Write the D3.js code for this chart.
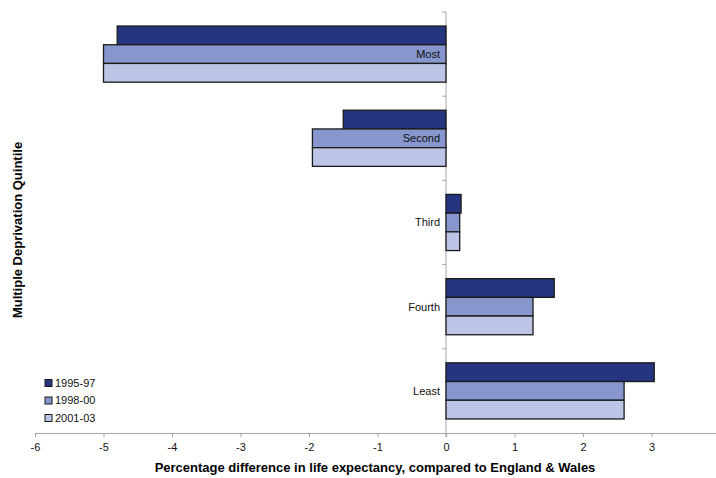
<!DOCTYPE html>
<html>
<head>
<meta charset="utf-8">
<script src="https://cdn.jsdelivr.net/npm/d3@7"></script>
<style>
  html, body { margin: 0; padding: 0; background: #fff; }
  svg { display: block; font-family: Arial, "Liberation Sans", sans-serif; }
</style>
</head>
<body>
<svg id="chart" width="716" height="478"></svg>
<script>
// Quintiles of multiple deprivation, most deprived first
const quintiles = ["Most", "Second", "Third", "Fourth", "Least"];
const periods = ["1995-97", "1998-00", "2001-03"];
// Percentage difference in life expectancy vs England & Wales, one array per period
const values1995 = [-4.8, -1.5, 0.22, 1.58, 3.04];
const values1998 = [-5.0, -1.95, 0.2, 1.27, 2.6];
const values2001 = [-5.0, -1.95, 0.2, 1.27, 2.6];
const xTicks = [-6, -5, -4, -3, -2, -1, 0, 1, 2, 3, 4];
// The last tick sits at the right edge of the plot and carries no label
const xTickLabels = ["-6", "-5", "-4", "-3", "-2", "-1", "0", "1", "2", "3", ""];
const colors = ["#26357f", "#8796cc", "#bcc5e5"];

const series = [values1995, values1998, values2001];
const svg = d3.select("#chart");

const plot = { left: 35, right: 720, top: 12, bottom: 433 };

const x = d3.scaleLinear().domain([-6, 4]).range([plot.left, plot.right]);
const y = d3.scaleBand().domain(quintiles).range([plot.top, plot.bottom])
  .paddingInner(1/3).paddingOuter(1/6);
const yInner = d3.scaleBand().domain(periods).range([0, y.bandwidth()]);

// Vertical category axis at zero, with ticks at category boundaries
const step = (plot.bottom - plot.top) / quintiles.length;
svg.append("line")
  .attr("x1", x(0)).attr("x2", x(0))
  .attr("y1", plot.top).attr("y2", plot.bottom + 4)
  .attr("stroke", "#a6a6a6").attr("stroke-width", 1);
d3.range(quintiles.length).forEach(i => {
  const yy = plot.top + i * step;
  svg.append("line")
    .attr("x1", x(0) - 4).attr("x2", x(0))
    .attr("y1", yy).attr("y2", yy)
    .attr("stroke", "#a6a6a6").attr("stroke-width", 1);
});

// Bars
quintiles.forEach((q, qi) => {
  periods.forEach((p, pi) => {
    const v = series[pi][qi];
    svg.append("rect")
      .attr("x", x(Math.min(0, v)))
      .attr("y", y(q) + yInner(p))
      .attr("width", Math.abs(x(v) - x(0)))
      .attr("height", yInner.bandwidth())
      .attr("fill", colors[pi])
      .attr("stroke", "#1a1a1a")
      .attr("stroke-width", 1.3);
  });
});

// Category labels beside the zero line
svg.append("g").selectAll("text").data(quintiles).join("text")
  .attr("x", x(0) - 6)
  .attr("y", d => y(d) + y.bandwidth() / 2)
  .attr("dy", "0.35em")
  .attr("text-anchor", "end")
  .attr("font-size", 11)
  .attr("fill", "#111")
  .text(d => d);

// Horizontal value axis
const xAxis = svg.append("g")
  .attr("transform", `translate(0,${plot.bottom})`)
  .call(d3.axisBottom(x).tickValues(xTicks).tickSize(4).tickSizeOuter(0).tickPadding(6)
    .tickFormat((d, i) => xTickLabels[i]));
xAxis.select(".domain").attr("stroke", "#a6a6a6");
xAxis.selectAll(".tick line").attr("stroke", "#a6a6a6");
xAxis.selectAll(".tick text")
  .attr("font-size", 11).attr("fill", "#111")
  .attr("font-family", "Arial, 'Liberation Sans', sans-serif");

// Axis titles
svg.append("text")
  .attr("x", 375).attr("y", 472)
  .attr("text-anchor", "middle")
  .attr("font-size", 13).attr("font-weight", "bold").attr("fill", "#000")
  .text("Percentage difference in life expectancy, compared to England & Wales");

svg.append("text")
  .attr("transform", "translate(22,230) rotate(-90)")
  .attr("text-anchor", "middle")
  .attr("font-size", 13).attr("font-weight", "bold").attr("fill", "#000")
  .text("Multiple Deprivation Quintile");

// Legend
const legend = svg.append("g").attr("transform", "translate(45,383)");
periods.forEach((p, i) => {
  const g = legend.append("g").attr("transform", `translate(0,${i * 17.5})`);
  g.append("rect")
    .attr("x", 0).attr("y", -3.5).attr("width", 7).attr("height", 7)
    .attr("fill", colors[i]).attr("stroke", "#1a1a1a").attr("stroke-width", 1);
  g.append("text")
    .attr("x", 10).attr("y", 0).attr("dy", "0.35em")
    .attr("font-size", 11).attr("fill", "#111")
    .text(p);
});
</script>
</body>
</html>
